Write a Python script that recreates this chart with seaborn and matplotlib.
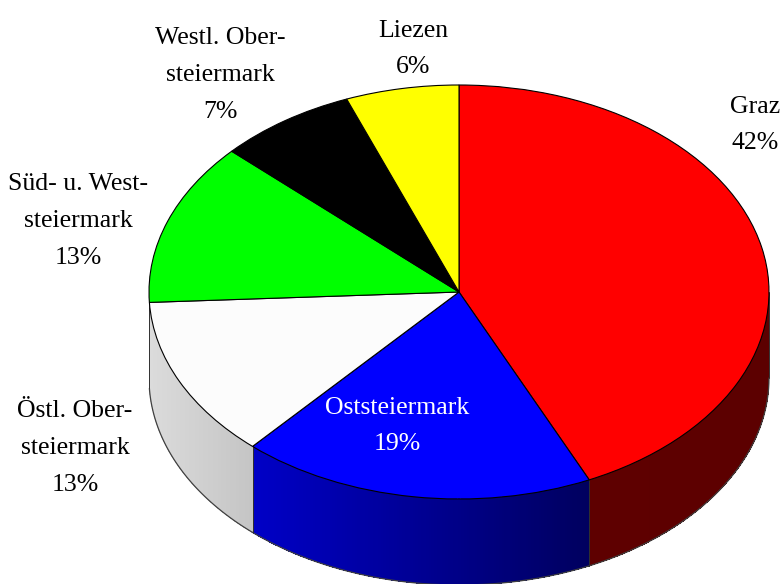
import numpy as np
import matplotlib
matplotlib.use("Agg")
import matplotlib.pyplot as plt
import seaborn as sns

# regions clockwise from 12 o'clock
regions = ["Graz", "Oststeiermark", "Östl. Ober-\nsteiermark",
           "Süd- u. West-\nsteiermark", "Westl. Ober-\nsteiermark", "Liezen"]
printed_pct = [42, 19, 13, 13, 7, 6]
# shares as they are actually drawn, measured from the slice boundaries
shares = [43.1, 18.5, 12.6, 12.7, 7.2, 5.9]
colors = ["#ff0000", "#0000ff", "#fcfcfc", "#00ff00", "#000000", "#ffff00"]
text_colors = ["black", "white", "black", "black", "black", "black"]
# label centres in pixels of the 782x584 picture
label_x = [755, 397, 75, 78, 220, 413]
label_y = [125, 426, 448, 221, 75, 49]

W, H = 782, 584
CX, CY, RX, RY = 459, 292, 310, 207
DEPTH = 86 / RY

# brightness of the side wall from left to right
shade_x = [-1.0, -0.665, 0.42, 1.0]
shade_v = [0.87, 0.78, 0.37, 0.36]

sns.set_theme(style="white")
plt.rcParams["font.family"] = ["Liberation Serif", "DejaVu Serif"]

fig = plt.figure(figsize=(W / 100, H / 100), dpi=100)
ax = fig.add_axes([0, 0, 1, 1])

# side wall, thin strips on the front half
edges = np.concatenate([[0], np.cumsum(shares)]) * 3.6
for i, col in enumerate(colors):
    start, stop = max(edges[i], 90), min(edges[i + 1], 270)
    # skip slices that only touch the front half
    if stop - start < 5:
        continue
    base = np.array(matplotlib.colors.to_rgb(col))
    angles = np.radians(np.linspace(start, stop, int(stop - start) * 2 + 2))
    xs, ys = np.sin(angles), np.cos(angles)
    for j in range(len(angles) - 1):
        v = np.interp((xs[j] + xs[j + 1]) / 2, shade_x, shade_v)
        ax.fill([xs[j], xs[j + 1], xs[j + 1], xs[j]],
                [ys[j], ys[j + 1], ys[j + 1] - DEPTH, ys[j] - DEPTH],
                facecolor=base * v, edgecolor="none", antialiased=False, zorder=1)
    ax.plot(xs, ys - DEPTH, color="#404040", lw=0.9, zorder=2)
    for a in (angles[0], angles[-1]):
        ax.plot([np.sin(a)] * 2, [np.cos(a), np.cos(a) - DEPTH],
                color="#303030", lw=0.7, zorder=2)

# top face
wedges, _ = ax.pie(shares, colors=colors, startangle=90, counterclock=False,
                   radius=1, center=(0, 0), frame=False,
                   wedgeprops={"edgecolor": "black", "linewidth": 0.8})
for w in wedges:
    w.set_zorder(3)

ax.set_aspect("auto")
ax.set_xlim(-CX / RX, (W - CX) / RX)
ax.set_ylim((CY - H) / RY, CY / RY)
ax.axis("off")

for name, pct, x, y, tc in zip(regions, printed_pct, label_x, label_y, text_colors):
    fig.text(x / W, 1 - y / H, f"{name}\n{pct}%", color=tc, fontsize=18.5,
             ha="center", va="center", linespacing=1.87, zorder=5)

fig.savefig("out.png", dpi=100)
